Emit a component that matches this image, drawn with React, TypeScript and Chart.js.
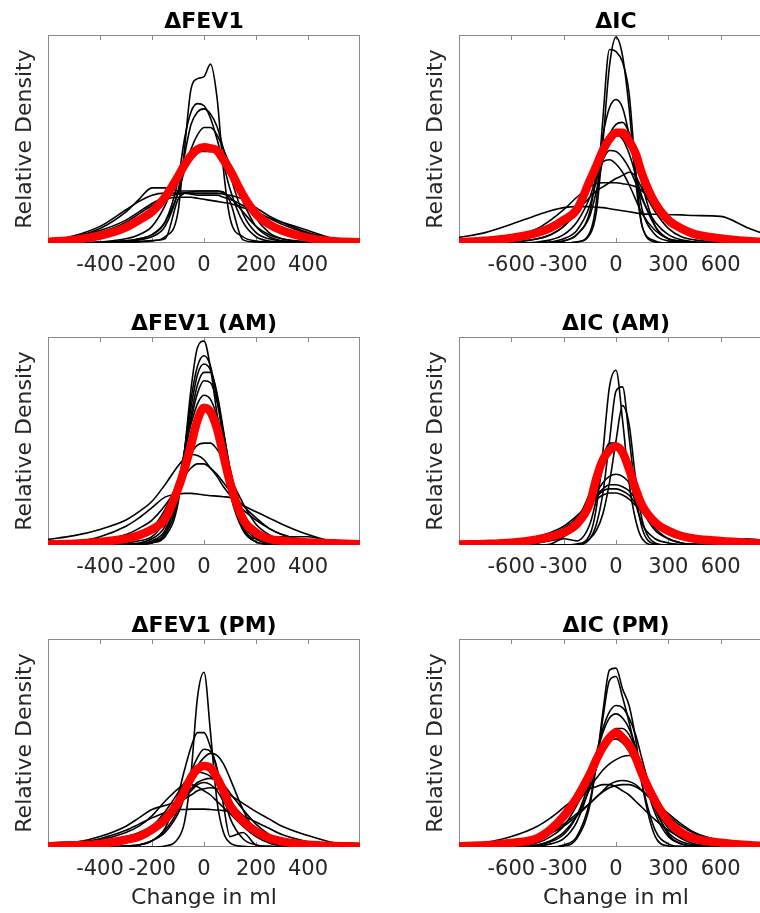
import React, { useEffect, useRef } from "react";
import { Chart, registerables } from "chart.js";

Chart.register(...registerables);

const FONT = "'DejaVu Sans', 'Liberation Sans', sans-serif";

// x grids (ml)
const X_FEV = [-600, -500, -400, -300, -250, -200, -150, -100, -75, -50, -25, 0, 25, 50, 75, 100, 150, 200, 250, 300, 400, 500, 600];
const X_IC = [-900, -750, -600, -450, -375, -300, -225, -150, -112.5, -75, -37.5, 0, 37.5, 75, 112.5, 150, 225, 300, 375, 450, 600, 750, 900];
const TICKS_FEV = [-400, -200, 0, 200, 400];
const TICKS_IC = [-600, -300, 0, 300, 600];

// ΔFEV1
const FEV_RED = [0.005, 0.015, 0.035, 0.075, 0.11, 0.15, 0.22, 0.32, 0.375, 0.42, 0.45, 0.46, 0.455, 0.445, 0.4, 0.35, 0.23, 0.14, 0.09, 0.06, 0.025, 0.008, 0.003];
const FEV_BLACK = [
  [0, 0, 0, 0.002, 0.005, 0.01, 0.03, 0.15, 0.45, 0.74, 0.79, 0.8, 0.86, 0.7, 0.35, 0.12, 0.03, 0.01, 0.005, 0, 0, 0, 0],
  [0, 0, 0.003, 0.01, 0.02, 0.04, 0.1, 0.3, 0.5, 0.63, 0.67, 0.66, 0.6, 0.5, 0.38, 0.26, 0.1, 0.03, 0.01, 0.005, 0, 0, 0],
  [0, 0, 0.002, 0.008, 0.015, 0.03, 0.08, 0.25, 0.42, 0.57, 0.63, 0.645, 0.62, 0.56, 0.45, 0.33, 0.14, 0.05, 0.02, 0.01, 0.002, 0, 0],
  [0, 0, 0.003, 0.01, 0.02, 0.04, 0.1, 0.24, 0.35, 0.45, 0.52, 0.555, 0.555, 0.52, 0.45, 0.37, 0.2, 0.08, 0.03, 0.01, 0.003, 0, 0],
  [0, 0, 0.005, 0.02, 0.04, 0.08, 0.18, 0.33, 0.4, 0.43, 0.44, 0.44, 0.44, 0.44, 0.43, 0.38, 0.25, 0.12, 0.05, 0.02, 0.005, 0, 0],
  [0.005, 0.03, 0.07, 0.15, 0.21, 0.265, 0.265, 0.25, 0.25, 0.25, 0.25, 0.25, 0.25, 0.25, 0.24, 0.22, 0.15, 0.08, 0.04, 0.02, 0.005, 0, 0],
  [0, 0, 0.002, 0.005, 0.008, 0.012, 0.02, 0.21, 0.24, 0.245, 0.25, 0.25, 0.25, 0.25, 0.245, 0.2, 0.015, 0.005, 0.002, 0, 0, 0, 0],
  [0.01, 0.03, 0.06, 0.11, 0.15, 0.19, 0.22, 0.235, 0.24, 0.24, 0.24, 0.24, 0.24, 0.24, 0.235, 0.23, 0.21, 0.17, 0.13, 0.1, 0.05, 0.02, 0.005],
  [0.005, 0.02, 0.05, 0.1, 0.14, 0.18, 0.21, 0.22, 0.22, 0.22, 0.215, 0.21, 0.205, 0.2, 0.195, 0.19, 0.17, 0.15, 0.12, 0.09, 0.045, 0.015, 0.003],
  [0.01, 0.035, 0.08, 0.16, 0.2, 0.23, 0.24, 0.24, 0.24, 0.235, 0.23, 0.23, 0.23, 0.23, 0.22, 0.21, 0.18, 0.14, 0.12, 0.1, 0.06, 0.02, 0.005],
];

// ΔIC
const IC_RED = [0.004, 0.011, 0.024, 0.05, 0.073, 0.11, 0.16, 0.3, 0.37, 0.445, 0.5, 0.53, 0.53, 0.49, 0.43, 0.33, 0.19, 0.11, 0.07, 0.043, 0.022, 0.01, 0.004];
const IC_BLACK = [
  [0, 0, 0, 0, 0, 0, 0.005, 0.04, 0.15, 0.48, 0.85, 0.99, 0.9, 0.65, 0.3, 0.08, 0.01, 0, 0, 0, 0, 0, 0],
  [0, 0, 0, 0, 0, 0, 0.005, 0.05, 0.2, 0.6, 0.93, 0.92, 0.87, 0.72, 0.35, 0.08, 0.005, 0, 0, 0, 0, 0, 0],
  [0, 0, 0, 0, 0.003, 0.01, 0.04, 0.15, 0.33, 0.52, 0.65, 0.69, 0.65, 0.52, 0.34, 0.16, 0.04, 0.01, 0.003, 0, 0, 0, 0],
  [0, 0, 0, 0, 0.003, 0.01, 0.04, 0.13, 0.25, 0.4, 0.52, 0.57, 0.58, 0.53, 0.42, 0.28, 0.08, 0.02, 0.005, 0, 0, 0, 0],
  [0, 0, 0, 0.005, 0.015, 0.04, 0.1, 0.22, 0.32, 0.4, 0.445, 0.44, 0.41, 0.36, 0.29, 0.21, 0.1, 0.04, 0.015, 0.005, 0, 0, 0],
  [0, 0, 0.003, 0.02, 0.04, 0.08, 0.16, 0.28, 0.34, 0.39, 0.4, 0.38, 0.34, 0.28, 0.21, 0.14, 0.06, 0.02, 0.01, 0.005, 0, 0, 0],
  [0, 0, 0.005, 0.02, 0.04, 0.08, 0.15, 0.22, 0.25, 0.27, 0.29, 0.31, 0.325, 0.34, 0.32, 0.26, 0.15, 0.07, 0.03, 0.015, 0.003, 0, 0],
  [0.002, 0.01, 0.03, 0.07, 0.11, 0.16, 0.22, 0.27, 0.285, 0.29, 0.29, 0.29, 0.285, 0.28, 0.27, 0.25, 0.19, 0.12, 0.07, 0.04, 0.012, 0.003, 0],
  [0.027, 0.05, 0.09, 0.135, 0.155, 0.17, 0.175, 0.175, 0.172, 0.17, 0.165, 0.16, 0.155, 0.15, 0.145, 0.14, 0.138, 0.136, 0.135, 0.132, 0.128, 0.075, 0.03],
  [0, 0, 0, 0, 0.005, 0.02, 0.06, 0.18, 0.3, 0.42, 0.5, 0.52, 0.5, 0.43, 0.33, 0.22, 0.08, 0.02, 0.005, 0, 0, 0, 0],
];

// ΔFEV1 (AM)
const FEV_AM_RED = [0.003, 0.006, 0.015, 0.03, 0.047, 0.075, 0.125, 0.27, 0.365, 0.48, 0.6, 0.66, 0.64, 0.56, 0.43, 0.3, 0.125, 0.06, 0.03, 0.02, 0.012, 0.008, 0.003];
const FEV_AM_BLACK = [
  [0, 0, 0, 0, 0.003, 0.01, 0.04, 0.2, 0.45, 0.75, 0.95, 0.98, 0.85, 0.63, 0.42, 0.25, 0.07, 0.015, 0.003, 0, 0, 0, 0],
  [0, 0, 0, 0, 0.003, 0.01, 0.05, 0.22, 0.45, 0.7, 0.86, 0.91, 0.86, 0.7, 0.5, 0.3, 0.08, 0.015, 0.003, 0, 0, 0, 0],
  [0, 0, 0, 0.002, 0.005, 0.015, 0.06, 0.24, 0.45, 0.66, 0.82, 0.87, 0.84, 0.72, 0.52, 0.32, 0.09, 0.03, 0.03, 0.04, 0.04, 0.01, 0],
  [0, 0, 0, 0.002, 0.005, 0.02, 0.07, 0.25, 0.43, 0.62, 0.77, 0.83, 0.83, 0.73, 0.55, 0.36, 0.11, 0.03, 0.008, 0.002, 0, 0, 0],
  [0, 0, 0.002, 0.005, 0.01, 0.03, 0.09, 0.27, 0.43, 0.6, 0.73, 0.79, 0.78, 0.69, 0.54, 0.37, 0.13, 0.04, 0.012, 0.005, 0, 0, 0],
  [0, 0, 0.003, 0.01, 0.02, 0.04, 0.12, 0.3, 0.45, 0.58, 0.68, 0.72, 0.7, 0.62, 0.5, 0.36, 0.15, 0.06, 0.02, 0.01, 0.005, 0, 0],
  [0, 0.002, 0.005, 0.02, 0.04, 0.08, 0.17, 0.3, 0.38, 0.44, 0.48, 0.49, 0.49, 0.46, 0.41, 0.33, 0.2, 0.1, 0.05, 0.025, 0.008, 0.002, 0],
  [0.027, 0.045, 0.075, 0.12, 0.16, 0.21, 0.29, 0.38, 0.415, 0.435, 0.43, 0.41, 0.37, 0.33, 0.28, 0.24, 0.17, 0.12, 0.08, 0.05, 0.02, 0.008, 0.003],
  [0, 0.005, 0.02, 0.05, 0.08, 0.12, 0.19, 0.28, 0.33, 0.37, 0.39, 0.39, 0.37, 0.34, 0.3, 0.26, 0.19, 0.13, 0.08, 0.05, 0.015, 0.005, 0],
  [0.005, 0.015, 0.04, 0.09, 0.13, 0.18, 0.23, 0.245, 0.248, 0.248, 0.245, 0.24, 0.237, 0.235, 0.232, 0.228, 0.19, 0.16, 0.13, 0.1, 0.05, 0.015, 0.003],
];

// ΔIC (AM)
const IC_AM_RED = [0.003, 0.005, 0.011, 0.027, 0.04, 0.06, 0.1, 0.2, 0.32, 0.41, 0.455, 0.474, 0.445, 0.365, 0.27, 0.19, 0.108, 0.068, 0.043, 0.03, 0.019, 0.011, 0.005];
const IC_AM_BLACK = [
  [0, 0, 0, 0, 0, 0, 0.005, 0.05, 0.18, 0.45, 0.76, 0.84, 0.6, 0.3, 0.12, 0.03, 0, 0, 0, 0, 0, 0, 0],
  [0, 0, 0, 0, 0, 0, 0, 0.03, 0.1, 0.25, 0.5, 0.74, 0.76, 0.52, 0.25, 0.08, 0.005, 0, 0, 0, 0, 0, 0],
  [0, 0, 0, 0, 0, 0, 0, 0.03, 0.07, 0.15, 0.3, 0.5, 0.67, 0.58, 0.32, 0.12, 0.01, 0, 0, 0, 0, 0, 0],
  [0, 0, 0.002, 0.01, 0.02, 0.04, 0.09, 0.2, 0.3, 0.42, 0.49, 0.49, 0.44, 0.36, 0.27, 0.19, 0.08, 0.03, 0.01, 0.004, 0, 0, 0],
  [0, 0, 0, 0.01, 0.025, 0.05, 0.12, 0.25, 0.34, 0.43, 0.475, 0.47, 0.42, 0.34, 0.25, 0.17, 0.07, 0.03, 0.01, 0.004, 0, 0, 0],
  [0, 0, 0.005, 0.02, 0.035, 0.06, 0.11, 0.19, 0.25, 0.3, 0.33, 0.34, 0.33, 0.3, 0.25, 0.19, 0.11, 0.06, 0.035, 0.02, 0.005, 0.001, 0],
  [0, 0.003, 0.01, 0.03, 0.05, 0.08, 0.13, 0.2, 0.24, 0.27, 0.29, 0.29, 0.28, 0.26, 0.22, 0.18, 0.12, 0.07, 0.04, 0.025, 0.02, 0.025, 0.01],
  [0, 0, 0.005, 0.02, 0.04, 0.07, 0.12, 0.19, 0.23, 0.26, 0.27, 0.27, 0.26, 0.24, 0.2, 0.16, 0.1, 0.06, 0.035, 0.02, 0.008, 0.003, 0],
  [0.003, 0.007, 0.015, 0.04, 0.06, 0.09, 0.14, 0.2, 0.22, 0.24, 0.25, 0.25, 0.24, 0.22, 0.19, 0.16, 0.1, 0.06, 0.035, 0.02, 0.015, 0.03, 0.015],
  [0, 0, 0, 0, 0.005, 0.03, 0.02, 0.1, 0.22, 0.38, 0.47, 0.48, 0.43, 0.33, 0.2, 0.1, 0.03, 0.01, 0.003, 0, 0, 0, 0],
];

// ΔFEV1 (PM)
const FEV_PM_RED = [0.004, 0.008, 0.015, 0.035, 0.05, 0.084, 0.132, 0.212, 0.27, 0.333, 0.375, 0.39, 0.38, 0.333, 0.27, 0.2, 0.124, 0.076, 0.043, 0.027, 0.011, 0.005, 0.003];
const FEV_PM_BLACK = [
  [0, 0, 0, 0, 0, 0, 0.005, 0.04, 0.12, 0.35, 0.72, 0.84, 0.55, 0.22, 0.07, 0.02, 0.003, 0, 0, 0, 0, 0, 0],
  [0, 0, 0, 0.005, 0.01, 0.03, 0.09, 0.25, 0.37, 0.48, 0.55, 0.55, 0.48, 0.37, 0.25, 0.14, 0.04, 0.01, 0.003, 0, 0, 0, 0],
  [0, 0, 0, 0.005, 0.01, 0.03, 0.08, 0.18, 0.27, 0.36, 0.43, 0.47, 0.46, 0.38, 0.2, 0.05, 0.07, 0.01, 0.003, 0, 0, 0, 0],
  [0, 0, 0, 0.005, 0.01, 0.03, 0.07, 0.16, 0.24, 0.32, 0.39, 0.43, 0.45, 0.44, 0.4, 0.33, 0.18, 0.07, 0.02, 0.005, 0, 0, 0],
  [0, 0.005, 0.015, 0.04, 0.06, 0.1, 0.17, 0.26, 0.31, 0.345, 0.36, 0.355, 0.34, 0.31, 0.27, 0.22, 0.15, 0.09, 0.05, 0.025, 0.008, 0.002, 0],
  [0, 0.003, 0.01, 0.03, 0.05, 0.08, 0.13, 0.2, 0.24, 0.28, 0.31, 0.325, 0.33, 0.32, 0.3, 0.26, 0.18, 0.11, 0.06, 0.03, 0.01, 0.003, 0],
  [0.02, 0.025, 0.035, 0.07, 0.1, 0.15, 0.22, 0.28, 0.3, 0.3, 0.29, 0.27, 0.25, 0.22, 0.19, 0.16, 0.1, 0.06, 0.03, 0.015, 0.005, 0, 0],
  [0.003, 0.008, 0.02, 0.05, 0.07, 0.1, 0.15, 0.2, 0.23, 0.25, 0.27, 0.28, 0.285, 0.28, 0.27, 0.25, 0.21, 0.17, 0.135, 0.1, 0.055, 0.02, 0.005],
  [0.005, 0.015, 0.04, 0.08, 0.11, 0.14, 0.165, 0.18, 0.18, 0.182, 0.182, 0.182, 0.18, 0.178, 0.175, 0.17, 0.15, 0.12, 0.09, 0.06, 0.025, 0.008, 0.002],
  [0.01, 0.02, 0.05, 0.1, 0.14, 0.18, 0.2, 0.22, 0.24, 0.27, 0.3, 0.31, 0.3, 0.27, 0.22, 0.17, 0.1, 0.05, 0.02, 0.01, 0.003, 0, 0],
];

// ΔIC (PM)
const IC_PM_RED = [0.003, 0.008, 0.019, 0.043, 0.084, 0.148, 0.236, 0.35, 0.42, 0.48, 0.525, 0.55, 0.525, 0.49, 0.43, 0.35, 0.22, 0.124, 0.068, 0.04, 0.021, 0.01, 0.004];
const IC_PM_BLACK = [
  [0, 0, 0, 0, 0, 0.005, 0.04, 0.2, 0.4, 0.65, 0.85, 0.86, 0.76, 0.68, 0.52, 0.3, 0.05, 0.005, 0, 0, 0, 0, 0],
  [0, 0, 0, 0, 0, 0.01, 0.05, 0.22, 0.4, 0.62, 0.8, 0.82, 0.72, 0.6, 0.46, 0.3, 0.08, 0.015, 0.003, 0, 0, 0, 0],
  [0, 0, 0, 0.005, 0.015, 0.04, 0.12, 0.3, 0.45, 0.57, 0.65, 0.68, 0.67, 0.62, 0.54, 0.42, 0.2, 0.06, 0.015, 0.004, 0, 0, 0],
  [0, 0, 0, 0.01, 0.025, 0.06, 0.15, 0.32, 0.44, 0.55, 0.62, 0.64, 0.62, 0.57, 0.48, 0.36, 0.16, 0.05, 0.015, 0.005, 0, 0, 0],
  [0, 0, 0.002, 0.01, 0.03, 0.07, 0.15, 0.28, 0.38, 0.47, 0.54, 0.57, 0.57, 0.54, 0.47, 0.38, 0.18, 0.07, 0.025, 0.01, 0.002, 0, 0],
  [0, 0, 0.005, 0.02, 0.05, 0.1, 0.2, 0.33, 0.41, 0.47, 0.51, 0.52, 0.5, 0.46, 0.4, 0.33, 0.19, 0.09, 0.04, 0.015, 0.003, 0, 0],
  [0, 0.003, 0.01, 0.035, 0.07, 0.13, 0.21, 0.29, 0.33, 0.37, 0.4, 0.42, 0.435, 0.44, 0.42, 0.37, 0.25, 0.14, 0.07, 0.035, 0.01, 0.003, 0],
  [0, 0.005, 0.015, 0.04, 0.065, 0.1, 0.15, 0.21, 0.24, 0.27, 0.3, 0.315, 0.32, 0.315, 0.3, 0.27, 0.21, 0.15, 0.1, 0.065, 0.03, 0.012, 0.004],
  [0, 0.003, 0.01, 0.04, 0.07, 0.11, 0.16, 0.21, 0.24, 0.265, 0.285, 0.295, 0.3, 0.3, 0.29, 0.27, 0.22, 0.16, 0.11, 0.07, 0.03, 0.01, 0.003],
  [0.005, 0.02, 0.05, 0.1, 0.14, 0.19, 0.24, 0.28, 0.29, 0.3, 0.3, 0.29, 0.27, 0.25, 0.22, 0.19, 0.13, 0.08, 0.045, 0.025, 0.008, 0.002, 0],
];

const PANELS = [
  { title: "\u0394FEV1", xs: X_FEV, ticks: TICKS_FEV, min: -600, max: 600, red: FEV_RED, black: FEV_BLACK, col: 0, row: 0 },
  { title: "\u0394IC", xs: X_IC, ticks: TICKS_IC, min: -900, max: 900, red: IC_RED, black: IC_BLACK, col: 1, row: 0 },
  { title: "\u0394FEV1 (AM)", xs: X_FEV, ticks: TICKS_FEV, min: -600, max: 600, red: FEV_AM_RED, black: FEV_AM_BLACK, col: 0, row: 1 },
  { title: "\u0394IC (AM)", xs: X_IC, ticks: TICKS_IC, min: -900, max: 900, red: IC_AM_RED, black: IC_AM_BLACK, col: 1, row: 1 },
  { title: "\u0394FEV1 (PM)", xs: X_FEV, ticks: TICKS_FEV, min: -600, max: 600, red: FEV_PM_RED, black: FEV_PM_BLACK, col: 0, row: 2 },
  { title: "\u0394IC (PM)", xs: X_IC, ticks: TICKS_IC, min: -900, max: 900, red: IC_PM_RED, black: IC_PM_BLACK, col: 1, row: 2 },
];

const CANVAS_W = 372;
const PLOT_TOP = 35;
const PLOT_H = 208;
const Y_AXIS_W = 48;

const boxPlugin = {
  id: "box",
  beforeDatasetsDraw(chart: any) {
    const { ctx, chartArea: a, scales } = chart;
    const ticks: number[] = chart.options.plugins.box.ticks || [];
    ctx.save();
    ctx.strokeStyle = "#8a8a8a";
    ctx.lineWidth = 1;
    ctx.strokeRect(Math.round(a.left) + 0.5, Math.round(a.top) + 0.5, Math.round(a.right - a.left) - 1, Math.round(a.bottom - a.top) - 1);
    ctx.beginPath();
    ticks.forEach((v) => {
      const px = Math.round(scales.x.getPixelForValue(v)) + 0.5;
      ctx.moveTo(px, a.top);
      ctx.lineTo(px, a.top + 5);
      ctx.moveTo(px, a.bottom);
      ctx.lineTo(px, a.bottom - 5);
    });
    ctx.stroke();
    ctx.restore();
  },
};

function Panel({ p }: { p: any }) {
  const ref = useRef<HTMLCanvasElement>(null);
  const h = p.row === 2 ? 309 : 302;
  const left = p.col === 0 ? 0 : 411;
  const top = p.row * 302;
  const padR = p.col === 0 ? 12 : 10;
  useEffect(() => {
    if (!ref.current) return;
    const toPts = (ys: number[]) => p.xs.map((x: number, i: number) => ({ x, y: ys[i] }));
    const datasets: any[] = [
      {
        data: toPts(p.red),
        borderColor: "#ff0000",
        borderWidth: 8.5,
        borderCapStyle: "butt",
      },
      ...p.black.map((c: number[]) => ({
        data: toPts(c),
        borderColor: "#000000",
        borderWidth: 1.6,
      })),
    ];
    const chart = new Chart(ref.current, {
      type: "line",
      data: { datasets },
      plugins: [boxPlugin],
      options: {
        animation: false,
        responsive: false,
        devicePixelRatio: 1,
        events: [],
        layout: { padding: { left: 0, right: padR, top: 0, bottom: 0 } },
        elements: {
          point: { radius: 0 },
          line: { cubicInterpolationMode: "monotone", borderJoinStyle: "round", fill: false },
        },
        plugins: {
          legend: { display: false },
          tooltip: { enabled: false },
          title: {
            display: true,
            text: p.title,
            fullSize: false,
            color: "#000000",
            font: { family: FONT, size: 22, weight: "bold", lineHeight: 1 },
            padding: { top: 11, bottom: PLOT_TOP - 33 },
          },
          box: { ticks: p.ticks },
        } as any,
        scales: {
          x: {
            type: "linear",
            min: p.min,
            max: p.max,
            afterBuildTicks: (s: any) => {
              s.ticks = p.ticks.map((v: number) => ({ value: v }));
            },
            afterFit: (s: any) => {
              s.height = h - PLOT_TOP - PLOT_H;
            },
            grid: { display: false, drawTicks: false },
            border: { display: false },
            ticks: {
              color: "#262626",
              font: { family: FONT, size: 21 },
              padding: 10,
              maxRotation: 0,
              autoSkip: false,
              callback: (v: any) => String(v),
            },
            title: {
              display: p.row === 2,
              text: "Change in ml",
              color: "#262626",
              font: { family: FONT, size: 22 },
              padding: { top: 0, bottom: 2 },
            },
          },
          y: {
            min: 0,
            max: 1,
            afterFit: (s: any) => {
              s.width = Y_AXIS_W;
            },
            grid: { display: false },
            border: { display: false },
            ticks: { display: false },
            title: {
              display: true,
              text: "Relative Density",
              color: "#262626",
              font: { family: FONT, size: 22 },
              padding: { top: 12, bottom: 0 },
            },
          },
        },
      } as any,
    });
    return () => chart.destroy();
  }, []);
  return (
    <canvas
      ref={ref}
      width={CANVAS_W}
      height={h}
      style={{ position: "absolute", left, top, width: CANVAS_W, height: h }}
    />
  );
}

export default function App() {
  return (
    <div
      style={{
        position: "fixed",
        left: 0,
        top: 0,
        width: 760,
        height: 913,
        overflow: "hidden",
        background: "#ffffff",
      }}
    >
      {PANELS.map((p, i) => (
        <Panel key={i} p={p} />
      ))}
    </div>
  );
}
